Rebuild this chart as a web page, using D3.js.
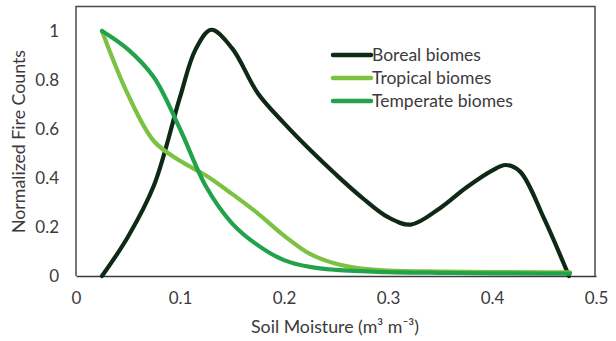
<!DOCTYPE html>
<html><head><meta charset="utf-8">
<script src="https://cdn.jsdelivr.net/npm/d3@7"></script>
<style>
html,body{margin:0;padding:0;background:#fff;}
text{font-family:Lato,"Open Sans",sans-serif;fill:#3b3b3b;}
</style></head>
<body><svg id="chart" width="616" height="341"></svg>
<script>
const seriesNames = ["Boreal biomes", "Tropical biomes", "Temperate biomes"];
const seriesColors = ["#0e2a17", "#7cc242", "#22a24a"];
const borealX = [0.025,0.05,0.075,0.1,0.115,0.13,0.15,0.175,0.2,0.225,0.25,0.275,0.3,0.322,0.35,0.375,0.4,0.413,0.427,0.45,0.474];
const borealY = [0,0.16,0.37,0.73,0.925,1.005,0.93,0.745,0.624,0.515,0.414,0.32,0.24,0.21,0.277,0.36,0.43,0.453,0.426,0.235,0];
const tropicalX = [0.025,0.05,0.075,0.1,0.125,0.15,0.175,0.2,0.225,0.25,0.275,0.3,0.35,0.4,0.45,0.475];
const tropicalY = [1,0.74,0.55,0.47,0.41,0.335,0.255,0.165,0.09,0.05,0.03,0.022,0.018,0.016,0.015,0.015];
const temperateX = [0.025,0.05,0.075,0.1,0.125,0.15,0.175,0.2,0.225,0.25,0.275,0.3,0.35,0.4,0.45,0.475];
const temperateY = [1,0.925,0.81,0.6,0.365,0.215,0.125,0.065,0.037,0.025,0.02,0.016,0.013,0.011,0.01,0.01];
const xTicks = [0,0.1,0.2,0.3,0.4,0.5];
const yTicks = [0,0.2,0.4,0.6,0.8,1];

const svg = d3.select("#chart");
const x = d3.scaleLinear().domain([0,0.5]).range([76,596]);
const y = d3.scaleLinear().domain([0,1.1]).range([276,6.5]);

function fit(sel, target){
  const n = sel.node();
  const fs = parseFloat(sel.style("font-size"));
  const w = n.getComputedTextLength();
  if (w > 0) sel.style("font-size", (fs*target/w).toFixed(2)+"px");
}

// frame
svg.append("path")
  .attr("d", `M${x(0)},${y(0)}V${y(1.1)}H${x(0.5)-1}V${y(0)}`)
  .attr("fill","none").attr("stroke","#4a4a4a").attr("stroke-width",1.5);

const xAxis = svg.append("g").attr("transform",`translate(0,${y(0)})`)
  .call(d3.axisBottom(x).tickValues(xTicks).tickSize(0).tickPadding(16).tickFormat(d=>d3.format("")(d)));
xAxis.select(".domain").attr("stroke","#3a3a3a").attr("stroke-width",1.5);
xAxis.selectAll("text").style("font-size","17px").attr("fill","#3b3b3b");

const yAxis = svg.append("g").attr("transform",`translate(${x(0)},0)`)
  .call(d3.axisLeft(y).tickValues(yTicks).tickSize(0).tickPadding(17).tickFormat(d=>d3.format("")(d)));
yAxis.select(".domain").remove();
yAxis.selectAll("text").style("font-size","17px").attr("fill","#3b3b3b");

const xt = svg.append("text").attr("x",335).attr("y",333).attr("text-anchor","middle")
  .style("font-size","16px").text("Soil Moisture (m³ m⁻³)");
fit(xt, 168);
const yt = svg.append("text").attr("transform","translate(25,141.5) rotate(-90)").attr("text-anchor","middle")
  .style("font-size","16px").text("Normalized Fire Counts");
fit(yt, 183);

const series = [
  {xs:borealX, ys:borealY},
  {xs:tropicalX, ys:tropicalY},
  {xs:temperateX, ys:temperateY}
];
const line = d3.line().x(d=>x(d[0])).y(d=>y(d[1])).curve(d3.curveCatmullRom.alpha(0.5));
series.forEach((s,i)=>{
  const pts = s.xs.map((v,j)=>[v,s.ys[j]]);
  svg.append("path").attr("d",line(pts)).attr("fill","none")
    .attr("stroke",seriesColors[i]).attr("stroke-width",4.2).attr("stroke-linejoin","round").attr("stroke-linecap","round");
});

// legend
const lg = svg.append("g");
const legendTexts = [];
seriesNames.forEach((n,i)=>{
  const yy = 55 + i*23;
  lg.append("line").attr("x1",333).attr("x2",371).attr("y1",yy).attr("y2",yy)
    .attr("stroke",seriesColors[i]).attr("stroke-width",4.5).attr("stroke-linecap","round");
  legendTexts.push(lg.append("text").attr("x",372).attr("y",yy+5.5).style("font-size","16px").text(n));
});
const lt = legendTexts[2];
fit(lt, 141);
const lfs = lt.style("font-size");
legendTexts.forEach(t=>t.style("font-size", lfs));
</script></body></html>
